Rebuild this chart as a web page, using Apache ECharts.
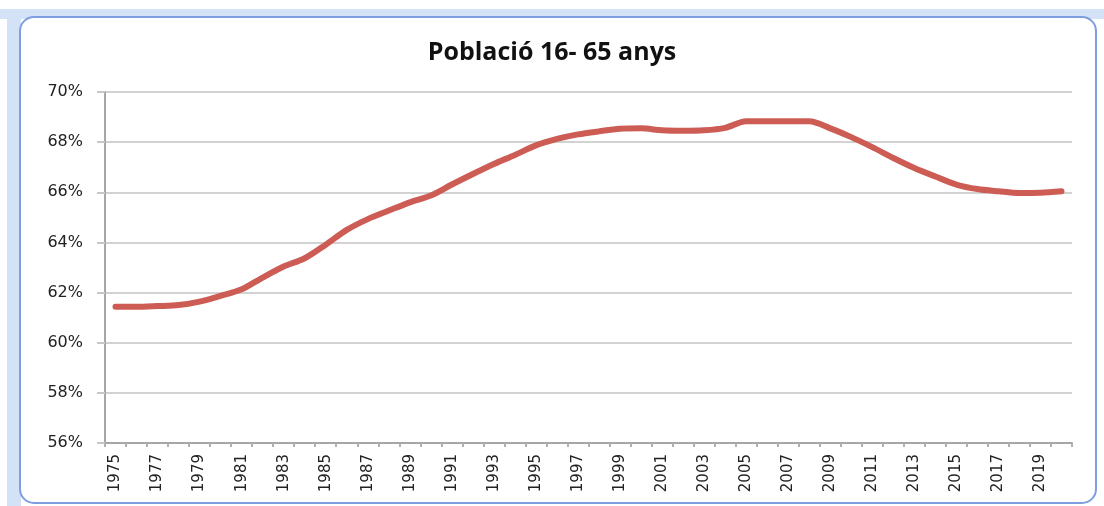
<!DOCTYPE html>
<html>
<head>
<meta charset="utf-8">
<script src="https://cdn.jsdelivr.net/npm/echarts@6/dist/echarts.min.js"></script>
<style>
html,body{margin:0;padding:0;background:#fff;}
#chart{width:1104px;height:506px;}
</style>
</head>
<body>
<div id="chart"></div>
<script>
var titleText = 'Població 16- 65 anys';
var years = [];
for (var y = 1975; y <= 2020; y++) years.push(String(y));
var values = [
  61.43, 61.43, 61.46, 61.50, 61.64, 61.87, 62.13, 62.60, 63.04, 63.37,
  63.91, 64.50, 64.93, 65.27, 65.60, 65.87, 66.31, 66.73, 67.13, 67.49,
  67.87, 68.13, 68.31, 68.43, 68.53, 68.55, 68.47, 68.45, 68.47, 68.57,
  68.83, 68.83, 68.83, 68.83, 68.55, 68.20, 67.80, 67.37, 66.97, 66.63,
  66.31, 66.13, 66.04, 65.97, 65.98, 66.04
];
var yMin = 56, yMax = 70, yStep = 2;

var chart = echarts.init(document.getElementById('chart'), null, {renderer: 'canvas'});
chart.setOption({
  animation: false,
  backgroundColor: '#ffffff',
  graphic: [
    {type: 'rect', z: -10, silent: true, shape: {x: 0, y: 9, width: 1104, height: 10}, style: {fill: '#d3e2f7'}},
    {type: 'rect', z: -10, silent: true, shape: {x: 7, y: 9, width: 14, height: 497}, style: {fill: '#d3e2f7'}},
    {type: 'rect', z: -9, silent: true, shape: {x: 20, y: 17, width: 1076, height: 486, r: 14},
      style: {fill: '#ffffff', stroke: '#7d9fe0', lineWidth: 2}}
  ],
  title: {
    text: titleText,
    left: 'center',
    top: 35,
    textStyle: {fontFamily: 'Open Sans', fontWeight: 'bold', fontSize: 25, color: '#111'}
  },
  grid: {left: 105, right: 32, top: 92, bottom: 63, containLabel: false},
  xAxis: {
    type: 'category',
    data: years,
    boundaryGap: true,
    axisLine: {show: true, lineStyle: {color: '#a6a6a6', width: 2}},
    axisTick: {show: true, interval: 0, length: 4, lineStyle: {color: '#b0b0b0', width: 2}},
    axisLabel: {interval: 1, rotate: 90, margin: 11, fontFamily: 'DejaVu Sans', fontSize: 15, color: '#222'},
    splitLine: {show: false}
  },
  yAxis: {
    type: 'value',
    min: yMin, max: yMax, interval: yStep,
    axisLine: {show: true, lineStyle: {color: '#a6a6a6', width: 2}},
    axisTick: {show: true, length: 8, lineStyle: {color: '#c8c8c8', width: 2}},
    axisLabel: {formatter: '{value}%', margin: 22, fontFamily: 'DejaVu Sans', fontSize: 16, color: '#222'},
    splitLine: {show: true, lineStyle: {color: '#d2d2d2', width: 2}}
  },
  series: [{
    type: 'line',
    data: values,
    smooth: 0.3,
    symbol: 'none',
    lineStyle: {color: '#cd5c55', width: 6, cap: 'round', join: 'round'}
  }]
});
</script>
</body>
</html>
